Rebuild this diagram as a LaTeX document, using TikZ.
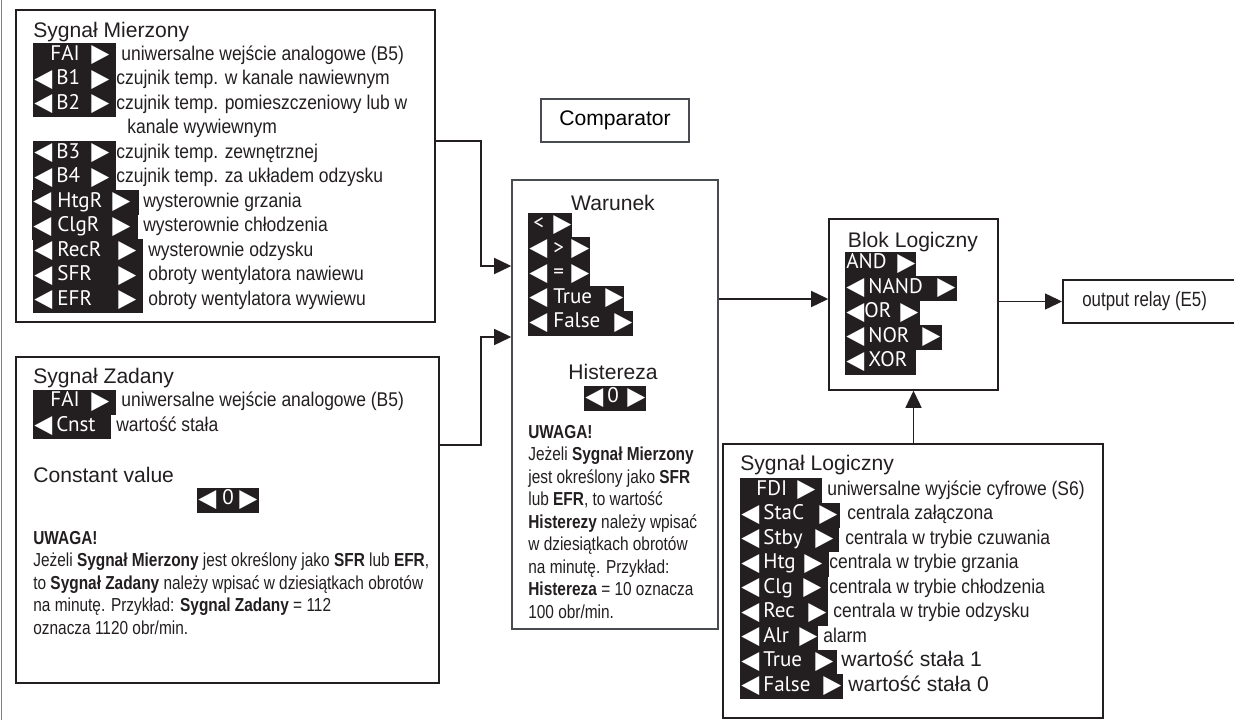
\documentclass[tikz,border=0pt]{standalone}
\usepackage{graphicx}
\usepackage{fontspec}
\setmainfont{Liberation Sans}
\newfontfamily\narrowfont{Liberation Sans}[FakeStretch=0.88]
\newfontfamily\condfont{Liberation Sans}[FakeStretch=0.82]
\newfontfamily\keyfont{PT Sans}
\newfontfamily\symfont{DejaVu Sans}
\usetikzlibrary{arrows.meta,fit}

% one drawing unit = one pixel of the layout
\newdimen\px \px=0.02cm
% arrow marks of a key field, centred on the row
\newcommand\kl{$\vcenter{\hbox{\resizebox*{18\px}{19\px}{\symfont ◀}}}$}
\newcommand\kr{$\vcenter{\hbox{\resizebox*{18\px}{19\px}{\symfont ▶}}}$}

\definecolor{ink}{RGB}{35,31,32}
\definecolor{framegray}{RGB}{72,76,80}

\tikzset{
  panel/.style={draw=ink, line width=1.1pt, inner sep=0pt},
  title/.style={anchor=west, inner sep=0pt, text=ink, font=\fontsize{12}{14}\selectfont},
  desc/.style={anchor=west, inner sep=0pt, text=ink, text height=7.5pt, text depth=2pt,
    font=\narrowfont\fontsize{11.3}{13}\selectfont},
  note/.style={anchor=north west, inner sep=0pt, align=left, text=ink,
    font=\condfont\fontsize{10.7}{12.8}\selectfont},
  key/.style={anchor=west, fill=ink, text=white, inner xsep=1\px, inner ysep=0pt,
    minimum height=25\px, text height=8pt, text depth=2.5pt, align=left,
    font=\keyfont\fontsize{12}{13}\selectfont},
  flow/.style={draw=ink, line width=0.85pt, -{Triangle[length=9.7pt, width=9.1pt]}}
}

\begin{document}
\begin{tikzpicture}[x=0.02cm, y=-0.02cm]
  \clip (0,0) rectangle (1234,720);
  \fill[white] (0,0) rectangle (1234,720);
  \draw[line width=1.1pt, gray] (1.5,0) -- (1.5,720);

  % measured signal
  \node[panel, fit={(16,10) (435,322)}] (mierz) {};
  \node[title] (mierz-title) at (33,32) {Sygnał Mierzony};
  \node[key, text width=81\px] (m-fai) at (33,55.5) {\hspace{16\px}FAI\hfill\kr\kern6\px};
  \node[key, text width=81\px] (m-b1) at (33,80) {\kl\hspace{4\px}B1\hfill\kr\kern6\px};
  \node[key, text width=81\px] (m-b2) at (33,104.5) {\kl\hspace{4\px}B2\hfill\kr\kern6\px};
  \node[key, text width=81\px] (m-b3) at (33,153.5) {\kl\hspace{4\px}B3\hfill\kr\kern6\px};
  \node[key, text width=81\px] (m-b4) at (33,178) {\kl\hspace{4\px}B4\hfill\kr\kern6\px};
  \node[key, text width=105\px] (m-htgr) at (32,202.5) {\kl\hspace{6\px}HtgR\hfill\kr\kern8\px};
  \node[key, text width=104\px] (m-clgr) at (32,227) {\kl\hspace{6\px}ClgR\hfill\kr\kern7\px};
  \node[key, text width=108\px] (m-recr) at (33,251.5) {\kl\hspace{5\px}RecR\hfill\kr\kern6\px};
  \node[key, text width=108\px] (m-sfr) at (33,276) {\kl\hspace{5\px}SFR\hfill\kr\kern6\px};
  \node[key, text width=108\px] (m-efr) at (33,300.5) {\kl\hspace{5\px}EFR\hfill\kr\kern6\px};
  \node[desc] (m-fai-t) at (121,55.5) {uniwersalne wejście analogowe (B5)};
  \node[desc] (m-b1-t) at (116,80) {czujnik temp. w kanale nawiewnym};
  \node[desc] (m-b2-t) at (116,104.5) {czujnik temp. pomieszczeniowy lub w};
  \node[desc] (m-b2-t2) at (127,129) {kanale wywiewnym};
  \node[desc] (m-b3-t) at (116,153.5) {czujnik temp. zewnętrznej};
  \node[desc] (m-b4-t) at (116,178) {czujnik temp. za układem odzysku};
  \node[desc] (m-htgr-t) at (143,202.5) {wysterownie grzania};
  \node[desc] (m-clgr-t) at (143,227) {wysterownie chłodzenia};
  \node[desc] (m-recr-t) at (148,251.5) {wysterownie odzysku};
  \node[desc] (m-sfr-t) at (148,276) {obroty wentylatora nawiewu};
  \node[desc] (m-efr-t) at (148,300.5) {obroty wentylatora wywiewu};

  % set point
  \node[panel, fit={(16,357) (439,683)}] (zad) {};
  \node[title] (zad-title) at (33,378) {Sygnał Zadany};
  \node[key, text width=81\px] (z-fai) at (33,402) {\hspace{16\px}FAI\hfill\kr\kern6\px};
  \node[key, text width=76\px] (z-cnst) at (33,426.5) {\kl\hspace{4\px}Cnst};
  \node[desc] (z-fai-t) at (121,402) {uniwersalne wejście analogowe (B5)};
  \node[desc] (z-cnst-t) at (116,426.5) {wartość stała};
  \node[title] (z-const) at (33,475) {Constant value};
  \node[key, text width=60\px] (z-val) at (197,500) {\kl\hspace{6\px}0\hfill\kr\kern1\px};
  \node[note] (z-note) at (33,531) {\textbf{UWAGA!}\\
    Jeżeli \textbf{Sygnał Mierzony} jest określony jako \textbf{SFR} lub \textbf{EFR},\\
    to \textbf{Sygnał Zadany} należy wpisać w dziesiątkach obrotów\\
    na minutę. Przykład: \textbf{Sygnal Zadany} = 112\\
    oznacza 1120 obr/min.};

  % comparator
  \node[panel, draw=framegray, minimum width=148\px, minimum height=43\px,
    font=\fontsize{12}{14}\selectfont] (cmp-label) at (615,120.5) {Comparator};
  \node[panel, draw=framegray, line width=0.85pt, fit={(512,180) (718,629)}] (comp) {};
  \node[title, anchor=center] (comp-title) at (613,203) {Warunek};
  \node[key, text width=42\px] (c-lt) at (528,225) {\hspace{4\px}<\hfill\kr};
  \node[key, text width=60\px] (c-gt) at (528,249.5) {\kl\hspace{6\px}>\hfill\kr};
  \node[key, text width=60\px] (c-eq) at (528,274) {\kl\hspace{6\px}=\hfill\kr};
  \node[key, text width=94\px] (c-true) at (528,298.5) {\kl\hspace{6\px}True\hfill\kr};
  \node[key, text width=103\px] (c-false) at (528,323) {\kl\hspace{6\px}False\hfill\kr};
  \node[title, anchor=center] (c-hyst) at (613,372) {Histereza};
  \node[key, text width=60\px] (c-val) at (584,398) {\kl\hspace{4\px}0\hfill\kr};
  \node[note] (c-note) at (528,425) {\textbf{UWAGA!}\\
    Jeżeli \textbf{Sygnał Mierzony}\\
    jest określony jako \textbf{SFR}\\
    lub \textbf{EFR}, to wartość\\
    \textbf{Histerezy} należy wpisać\\
    w dziesiątkach obrotów\\
    na minutę. Przykład:\\
    \textbf{Histereza} = 10 oznacza\\
    100 obr/min.};

  % logic block
  \node[panel, line width=0.85pt, fit={(829,219) (998,390)}] (blok) {};
  \node[title, anchor=center] (blok-title) at (913,242) {Blok Logiczny};
  \node[key, text width=69\px] (b-and) at (845,264) {AND\hfill\kr};
  \node[key, text width=110\px] (b-nand) at (845,288.5) {\kl\hspace{4\px}NAND\hfill\kr\kern1\px};
  \node[key, text width=73\px] (b-or) at (845,313) {\kl OR\hfill\kr\kern1\px};
  \node[key, text width=95\px] (b-nor) at (845,337.5) {\kl\hspace{4\px}NOR\hfill\kr\kern1\px};
  \node[key, text width=69\px] (b-xor) at (845,362) {\kl\hspace{4\px}XOR};

  \node[panel, fit={(1063,280) (1240,323)}] (relay) {};
  \node[desc, font=\condfont\fontsize{11.7}{14}\selectfont] (relay-t) at (1082,301.5) {output relay (E5)};

  % logic signal
  \node[panel, line width=0.85pt, fit={(723,444) (1103,718)}] (logic) {};
  \node[title] (logic-title) at (740,465) {Sygnał Logiczny};
  \node[key, text width=80\px] (l-fdi) at (740,490.5) {\hspace{15\px}FDI\hfill\kr\kern6\px};
  \node[key, text width=98\px] (l-stac) at (740,515) {\kl\hspace{4\px}StaC\hfill\kr\kern2\px};
  \node[key, text width=97\px] (l-stby) at (740,539.5) {\kl\hspace{4\px}Stby\hfill\kr\kern5\px};
  \node[key, text width=87\px] (l-htg) at (740,564) {\kl\hspace{4\px}Htg\hfill\kr\kern6\px};
  \node[key, text width=86\px] (l-clg) at (740,588.5) {\kl\hspace{4\px}Clg\hfill\kr\kern6\px};
  \node[key, text width=86\px] (l-rec) at (740,613) {\kl\hspace{4\px}Rec\hfill\kr\kern1\px};
  \node[key, text width=76\px] (l-alr) at (740,637.5) {\kl\hspace{4\px}Alr\hfill\kr};
  \node[key, text width=95\px] (l-true) at (740,662) {\kl\hspace{4\px}True\hfill\kr\kern3\px};
  \node[key, text width=101\px] (l-false) at (740,686.5) {\kl\hspace{4\px}False\hfill\kr\kern1\px};
  \node[desc] (l-fdi-t) at (827,490.5) {uniwersalne wyjście cyfrowe (S6)};
  \node[desc] (l-stac-t) at (847,515) {centrala załączona};
  \node[desc] (l-stby-t) at (845,539.5) {centrala w trybie czuwania};
  \node[desc] (l-htg-t) at (829,564) {centrala w trybie grzania};
  \node[desc] (l-clg-t) at (829,588.5) {centrala w trybie chłodzenia};
  \node[desc] (l-rec-t) at (833,613) {centrala w trybie odzysku};
  \node[desc] (l-alr-t) at (823,637.5) {alarm};
  \node[desc, font=\fontsize{12}{14}\selectfont] (l-true-t) at (841,662) {wartość stała 1};
  \node[desc, font=\fontsize{12}{14}\selectfont] (l-false-t) at (848,686.5) {wartość stała 0};

  % signal flow
  \draw[flow] (mierz.east |- 0,141) -| (481,266) -- (comp.west |- 0,266);
  \draw[flow] (zad.east |- 0,445) -| (481,337) -- (comp.west |- 0,337);
  \draw[flow] (comp.east |- 0,299) -- (blok.west |- 0,299);
  \draw[flow] (blok.east |- relay.west) -- (relay.west);
  \draw[flow] (logic.north -| blok.south) -- (blok.south);
\end{tikzpicture}
\end{document}
